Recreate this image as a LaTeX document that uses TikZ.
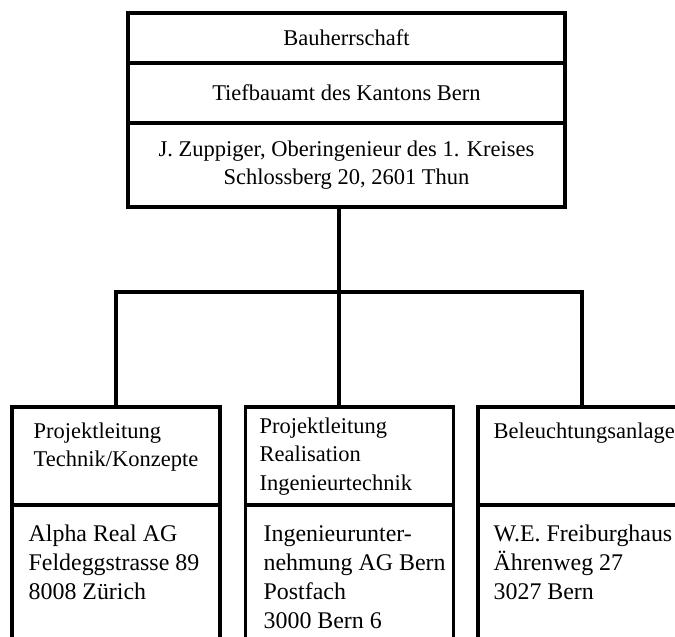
\documentclass[tikz,border=0pt]{standalone}
\usepackage{fontspec}
\setmainfont{Liberation Serif}
\begin{document}
\begin{tikzpicture}[line width=1.9pt]

\def\bw{4.16cm}
\tikzstyle{block} = [
	draw, rectangle, inner sep=0pt,
	minimum width=8.74cm, font=\fontsize{12.8}{16}\selectfont, align=center ];
\tikzstyle{cell} = [draw, rectangle, inner sep=0pt, minimum width=\bw];
\tikzstyle{head} = [anchor=north west, inner sep=0pt, align=left,
	font=\fontsize{12.8}{16}\selectfont];
\tikzstyle{addr} = [anchor=north west, inner sep=0pt, align=left,
	font=\fontsize{13.6}{16.4}\selectfont];
\useasboundingbox (0,0) rectangle (13.5,-12.74);
\clip (0,0) rectangle (13.5,-12.74);

% top
\node[block,minimum height=1cm] (t0) at (6.93,-0.76) {Bauherrschaft};
\node[block,minimum height=1.2cm] (t1) at (6.93,-1.86) {Tiefbauamt des Kantons Bern};
\node[block,minimum height=1.68cm] (t2) at (6.93,-3.30)
	{J. Zuppiger, Oberingenieur des 1. Kreises\\ Schlossberg 20, 2601 Thun};

% bottom row
\node[cell,minimum height=1.96cm] (h1) at (2.32,-9.12) {};
\node[cell,minimum height=1.96cm] (h2) at (6.99,-9.12) {};
\node[cell,minimum height=1.96cm] (h3) at (11.64,-9.12) {};
\node[cell,minimum height=3.1cm] (a1) at (2.32,-11.65) {};
\node[cell,minimum height=3.1cm] (a2) at (6.99,-11.65) {};
\node[cell,minimum height=3.1cm] (a3) at (11.64,-11.65) {};

\node[head] (p1) at (0.64,-8.35) {\strut Projektleitung\\ Technik/Konzepte};
\node[head] (p2) at (5.16,-8.25) {\strut Projektleitung\\ Realisation\\ Ingenieurtechnik};
\node[head] (p3) at (9.84,-8.35) {\strut Beleuchtungsanlage};
\node[addr] (f1) at (0.54,-10.40) {\strut Alpha Real AG\\ Feldeggstrasse 89\\ 8008 Zürich};
\node[addr] (f2) at (5.24,-10.40) {\strut Ingenieurunter-\\ nehmung AG Bern\\ Postfach\\ 3000 Bern 6};
\node[addr] (f3) at (9.84,-10.40) {\strut W.E. Freiburghaus\\ Ährenweg 27\\ 3027 Bern};

% lines
\coordinate (j) at (6.78,-5.84);
\draw (t2.south -| j) -- (j);
\draw (h1.north) |- (j) -| (h3.north);
\draw (j) -- (j |- h2.north);

\end{tikzpicture}
\end{document}
